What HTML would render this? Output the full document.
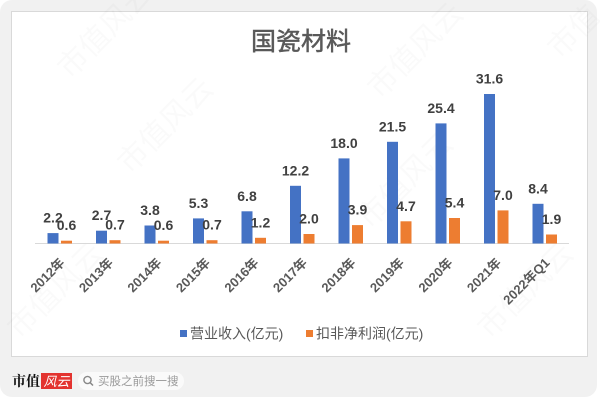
<!DOCTYPE html>
<html><head><meta charset="utf-8">
<style>
html,body{margin:0;padding:0;background:#fff;}
body{width:600px;height:400px;overflow:hidden;position:relative;}
</style></head>
<body>
<svg width="600" height="400" viewBox="0 0 600 400" xmlns="http://www.w3.org/2000/svg" style="position:absolute;left:0;top:0">
  <rect x="0" y="0" width="597" height="397" rx="12" ry="12" fill="#f1f1f1"/>
  <rect x="11.5" y="11.5" width="576" height="345" fill="#ffffff" stroke="#d9d9d9" stroke-width="1"/>

  <g font-family="'Liberation Sans','Noto Sans CJK SC',sans-serif" font-size="30" fill="#000" fill-opacity="0.018">
    <text transform="translate(70,80) rotate(-45)">市值风云</text>
    <text transform="translate(130,175) rotate(-45)">市值风云</text>
    <text transform="translate(380,100) rotate(-45)">市值风云</text>
    <text transform="translate(560,60) rotate(-45)">市值</text>
    <text transform="translate(20,340) rotate(-45)">市值风云</text>
    <text transform="translate(370,230) rotate(-45)">市值风云</text>
    <text transform="translate(490,340) rotate(-45)">市值风云</text>
  </g>

  <text x="301" y="50" text-anchor="middle" font-family="'Liberation Sans','Noto Sans CJK SC',sans-serif" font-size="25" fill="#595959" stroke="#595959" stroke-width="0.5">国瓷材料</text>

  <line x1="35" y1="243.5" x2="569" y2="243.5" stroke="#d9d9d9" stroke-width="1"/>

  <g fill="#4472c4">
    <rect x="47.5" y="233.1" width="11" height="10.4"/>
    <rect x="96" y="230.7" width="11" height="12.8"/>
    <rect x="144.5" y="225.5" width="11" height="18.0"/>
    <rect x="193" y="218.4" width="11" height="25.1"/>
    <rect x="241.5" y="211.3" width="11" height="32.2"/>
    <rect x="290" y="185.8" width="11" height="57.7"/>
    <rect x="338.5" y="158.4" width="11" height="85.1"/>
    <rect x="387" y="141.8" width="11" height="101.7"/>
    <rect x="435.5" y="123.4" width="11" height="120.1"/>
    <rect x="484" y="94.0" width="11" height="149.5"/>
    <rect x="532.5" y="203.8" width="11" height="39.7"/>
  </g>
  <g fill="#ed7d31">
    <rect x="61" y="240.7" width="11" height="2.8"/>
    <rect x="109.5" y="240.2" width="11" height="3.3"/>
    <rect x="158" y="240.7" width="11" height="2.8"/>
    <rect x="206.5" y="240.2" width="11" height="3.3"/>
    <rect x="255" y="237.8" width="11" height="5.7"/>
    <rect x="303.5" y="234.0" width="11" height="9.5"/>
    <rect x="352" y="225.1" width="11" height="18.4"/>
    <rect x="400.5" y="221.3" width="11" height="22.2"/>
    <rect x="449" y="218.0" width="11" height="25.5"/>
    <rect x="497.5" y="210.4" width="11" height="33.1"/>
    <rect x="546" y="234.5" width="11" height="9.0"/>
  </g>

  <g font-family="'Liberation Sans',sans-serif" font-size="14" font-weight="bold" fill="#404040" text-anchor="middle">
    <text x="53" y="222.6">2.2</text>
    <text x="101.5" y="220.2">2.7</text>
    <text x="150" y="215">3.8</text>
    <text x="198.5" y="207.9">5.3</text>
    <text x="247" y="200.8">6.8</text>
    <text x="295.5" y="175.3">12.2</text>
    <text x="344" y="147.9">18.0</text>
    <text x="392.5" y="131.3">21.5</text>
    <text x="441" y="112.9">25.4</text>
    <text x="489.5" y="83.5">31.6</text>
    <text x="538" y="193.3">8.4</text>

    <text x="66.5" y="230.2">0.6</text>
    <text x="115" y="229.7">0.7</text>
    <text x="163.5" y="230.2">0.6</text>
    <text x="212" y="229.7">0.7</text>
    <text x="260.5" y="227.3">1.2</text>
    <text x="309" y="223.5">2.0</text>
    <text x="357.5" y="214.6">3.9</text>
    <text x="406" y="210.8">4.7</text>
    <text x="454.5" y="207.5">5.4</text>
    <text x="503" y="199.9">7.0</text>
    <text x="551.5" y="224">1.9</text>
  </g>

  <g font-family="'Liberation Sans','Noto Sans CJK SC',sans-serif" font-size="13" font-weight="bold" fill="#595959" text-anchor="end">
    <text transform="translate(65.5,263.5) rotate(-45)">2012年</text>
    <text transform="translate(114,263.5) rotate(-45)">2013年</text>
    <text transform="translate(162.5,263.5) rotate(-45)">2014年</text>
    <text transform="translate(211,263.5) rotate(-45)">2015年</text>
    <text transform="translate(259.5,263.5) rotate(-45)">2016年</text>
    <text transform="translate(308,263.5) rotate(-45)">2017年</text>
    <text transform="translate(356.5,263.5) rotate(-45)">2018年</text>
    <text transform="translate(405,263.5) rotate(-45)">2019年</text>
    <text transform="translate(453.5,263.5) rotate(-45)">2020年</text>
    <text transform="translate(502,263.5) rotate(-45)">2021年</text>
    <text transform="translate(550.5,263.5) rotate(-45)">2022年Q1</text>
  </g>

  <rect x="180" y="330" width="7" height="7" fill="#4472c4"/>
  <text x="190" y="338.5" font-family="'Liberation Sans','Noto Sans CJK SC',sans-serif" font-size="14" fill="#595959">营业收入(亿元)</text>
  <rect x="306" y="330" width="7" height="7" fill="#ed7d31"/>
  <text x="316" y="338.5" font-family="'Liberation Sans','Noto Sans CJK SC',sans-serif" font-size="14" fill="#595959">扣非净利润(亿元)</text>

  <text x="12" y="386" font-family="'Liberation Serif','Noto Serif CJK SC',serif" font-size="14" font-weight="bold" fill="#111">市值</text>
  <rect x="41" y="373" width="31" height="16" fill="#e3332f"/>
  <text x="56.5" y="386" text-anchor="middle" font-family="'Liberation Sans','Noto Sans CJK SC',sans-serif" font-size="13" font-style="italic" fill="#fff">风云</text>
  <rect x="78" y="372" width="106" height="18" rx="9" ry="9" fill="#fafafa"/>
  <circle cx="87.5" cy="380" r="3.6" fill="none" stroke="#888" stroke-width="1.4"/>
  <line x1="90.2" y1="382.7" x2="93" y2="385.5" stroke="#888" stroke-width="1.5"/>
  <text x="98" y="385" font-family="'Liberation Sans','Noto Sans CJK SC',sans-serif" font-size="11.5" fill="#9a9a9a">买股之前搜一搜</text>
</svg>
</body></html>
